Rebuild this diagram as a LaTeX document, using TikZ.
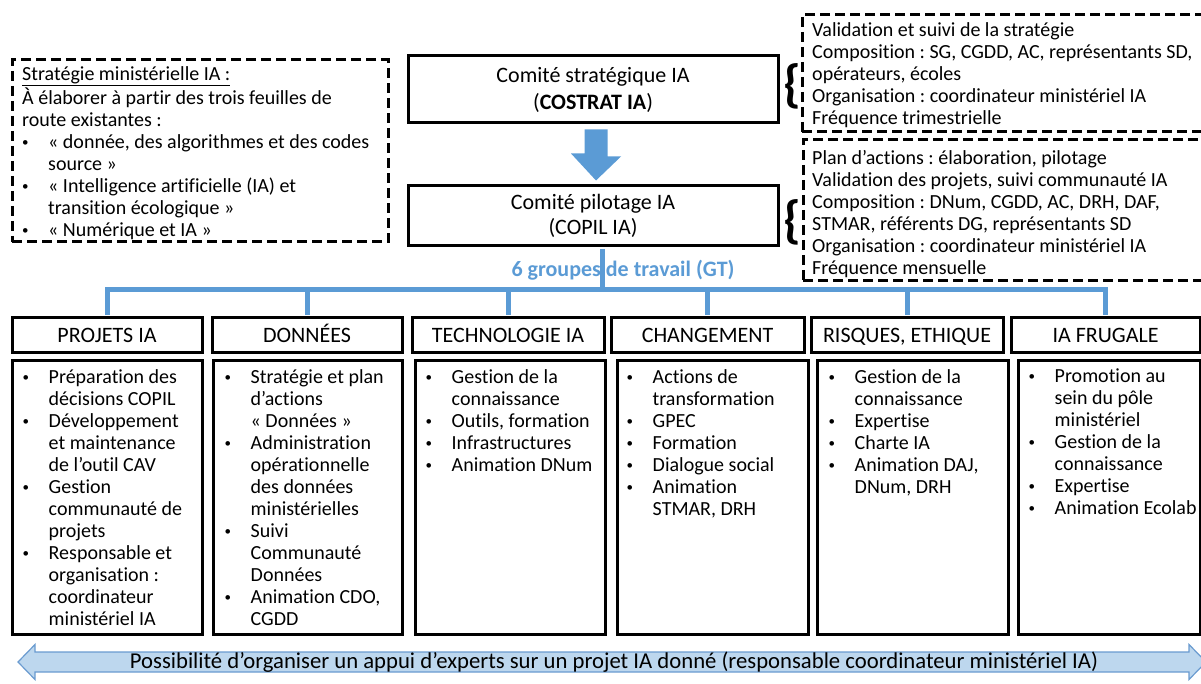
\documentclass[tikz,border=0pt]{standalone}
\usepackage{fontspec}
\setmainfont{Carlito}[Ligatures=NoCommon]
\usetikzlibrary{calc}
\frenchspacing
\definecolor{gtblue}{HTML}{5B9BD5}
\definecolor{appuifill}{HTML}{BDD7EE}
\definecolor{appuiline}{HTML}{6A9BD0}
% bullet and hanging indent for the task lists
\newcommand\bmark{\makebox[26pt][l]{\raisebox{2.2pt}{\fontsize{13}{13}\selectfont •}}}
\newcommand\imark{\hspace*{26pt}}

\begin{document}
\begin{tikzpicture}[x=1pt,y=-1pt,
  solidbox/.style={draw, line width=3pt, inner sep=0pt},
  dashbox/.style={draw, line width=3pt, dash pattern=on 10pt off 5pt, inner sep=0pt},
  bodytext/.style={anchor=north west, align=left, inner sep=0pt,
    font=\fontsize{20}{22}\selectfont},
  notetext/.style={anchor=north west, align=left, inner sep=0pt,
    font=\fontsize{20}{22}\selectfont},
  headtext/.style={solidbox, font=\fontsize{22}{24}\selectfont,
    text height=14.5pt, text depth=0pt},
  bracemark/.style={inner sep=0pt, font=\fontsize{52}{52}\bfseries\selectfont},
  gtline/.style={draw=gtblue, line width=5pt},
]
\useasboundingbox (0,0) rectangle (1201,684);

% ---- strategy note (top left) ----
\node[dashbox, minimum width=376, minimum height=182] (strat) at (200,151) {};
\node[notetext] (strattxt) at (22,65.1) {\strut\underline{Stratégie ministérielle IA :}\\
À élaborer à partir des trois feuilles de\\
route existantes :\\
\bmark « donnée, des algorithmes et des codes\\
\imark source »\\
\bmark « Intelligence artificielle (IA) et\\
\imark transition écologique »\\
\bmark « Numérique et IA »};

% ---- steering committees ----
\node[solidbox, minimum width=370, minimum height=67, align=center,
  font=\fontsize{22}{27}\selectfont] (costrat) at (593,89.5)
  {Comité stratégique IA\\(\textbf{COSTRAT IA})};
\node[solidbox, minimum width=370, minimum height=60, align=center,
  font=\fontsize{22}{25}\selectfont] (copil) at (593,216)
  {Comité pilotage IA\\(COPIL IA)};

% block arrow between the two committees
\fill[gtblue] ([xshift=-8.5pt,yshift=-5pt]costrat.south) -- ++(23,0) -- ++(0,27)
  -- ++(13.5,0) -- ([xshift=3pt,yshift=4pt]copil.north) -- ++(-25,-27)
  -- ++(13.5,0) -- cycle;

% ---- committee descriptions (top right) ----
\node[bracemark] (brace1) at (792,86) {\{};
\node[bracemark] (brace2) at (792,222) {\{};
\node[dashbox, minimum width=413, minimum height=117] (costratnote) at (1008.5,73.5) {};
\node[notetext] (costrattxt) at (812,20.6) {\strut Validation et suivi de la stratégie\\
Composition : SG, CGDD, AC, représentants SD,\\
opérateurs, écoles\\
Organisation : coordinateur ministériel IA\\
Fréquence trimestrielle};
\node[dashbox, minimum width=412, minimum height=141] (copilnote) at (1009,210.5) {};
\node[notetext] (copiltxt) at (812,149.1) {\strut Plan d’actions : élaboration, pilotage\\
Validation des projets, suivi communauté IA\\
Composition : DNum, CGDD, AC, DRH, DAF,\\
STMAR, référents DG, représentants SD\\
Organisation : coordinateur ministériel IA\\
Fréquence mensuelle};

% ---- working group headers ----
\node[headtext, minimum width=190, minimum height=34] (h1) at (107,335) {PROJETS IA};
\node[headtext, minimum width=190, minimum height=34] (h2) at (307,335) {DONNÉES};
\node[headtext, minimum width=192, minimum height=34] (h3) at (508,335) {TECHNOLOGIE IA};
\node[headtext, minimum width=193, minimum height=34] (h4) at (707.5,335) {CHANGEMENT};
\node[headtext, minimum width=192, minimum height=34] (h5) at (907,335) {RISQUES, ETHIQUE};
\node[headtext, minimum width=189, minimum height=34] (h6) at (1105.5,335) {IA FRUGALE};

% ---- working group task boxes ----
\node[solidbox, minimum width=190, minimum height=274] (c1) at (107,497) {};
\node[solidbox, minimum width=189, minimum height=274] (c2) at (307.5,497) {};
\node[solidbox, minimum width=190, minimum height=274] (c3) at (510,497) {};
\node[solidbox, minimum width=191, minimum height=274] (c4) at (712.5,497) {};
\node[solidbox, minimum width=191, minimum height=274] (c5) at (912.5,497) {};
\node[solidbox, minimum width=182, minimum height=274] (c6) at (1109,497) {};

\node[bodytext] (t1) at ([xshift=12pt,yshift=-9.5pt]c1.north west) {\strut
\bmark Préparation des\\ \imark décisions COPIL\\
\bmark Développement\\ \imark et maintenance\\ \imark de l’outil CAV\\
\bmark Gestion\\ \imark communauté de\\ \imark projets\\
\bmark Responsable et\\ \imark organisation :\\ \imark coordinateur\\ \imark ministériel IA};
\node[bodytext] (t2) at ([xshift=13pt,yshift=-9.5pt]c2.north west) {\strut
\bmark Stratégie et plan\\ \imark d’actions\\ \imark « Données »\\
\bmark Administration\\ \imark opérationnelle\\ \imark des données\\ \imark ministérielles\\
\bmark Suivi\\ \imark Communauté\\ \imark Données\\
\bmark Animation CDO,\\ \imark CGDD};
\node[bodytext] (t3) at ([xshift=12pt,yshift=-9.5pt]c3.north west) {\strut
\bmark Gestion de la\\ \imark connaissance\\
\bmark Outils, formation\\
\bmark Infrastructures\\
\bmark Animation DNum};
\node[bodytext] (t4) at ([xshift=11pt,yshift=-9.5pt]c4.north west) {\strut
\bmark Actions de\\ \imark transformation\\
\bmark GPEC\\
\bmark Formation\\
\bmark Dialogue social\\
\bmark Animation\\ \imark STMAR, DRH};
\node[bodytext] (t5) at ([xshift=13pt,yshift=-9.5pt]c5.north west) {\strut
\bmark Gestion de la\\ \imark connaissance\\
\bmark Expertise\\
\bmark Charte IA\\
\bmark Animation DAJ,\\ \imark DNum, DRH};
\node[bodytext] (t6) at ([xshift=12pt,yshift=-8.5pt]c6.north west) {\strut
\bmark Promotion au\\ \imark sein du pôle\\ \imark ministériel\\
\bmark Gestion de la\\ \imark connaissance\\
\bmark Expertise\\
\bmark Animation Ecolab};

% ---- the six working groups hanging from COPIL ----
\node[font=\fontsize{22}{24}\bfseries\selectfont, text=gtblue, inner sep=0pt] (gt) at (623,270)
  {6 groupes de travail (GT)};
\coordinate (bar) at (600,290);
\draw[gtline] ([yshift=1.5pt]h1.north) -- (h1.north |- bar) -- (h6.north |- bar)
  -- ([yshift=1.5pt]h6.north);
\foreach \h in {h2,h3,h4,h5}
  \draw[gtline] ([yshift=1.5pt]\h.north) -- (\h.north |- bar);
\draw[gtline] ([xshift=9pt,yshift=-1.5pt]copil.south) -- ([xshift=9pt]copil.south |- bar);

% ---- expert support double arrow ----
\coordinate (lefttip) at (18,662);
\coordinate (righttip) at (1206,662);
\filldraw[fill=appuifill, draw=appuiline, line width=1.2pt]
  (lefttip) -- ++(17,-17.5) -- ++(0,7.5) -- (1189,652) -- ++(0,-7.5)
  -- (righttip) -- ++(-17,17.5) -- ++(0,-7.5) -- (35,672) -- ++(0,7.5) -- cycle;
\node[font=\fontsize{22.7}{24}\selectfont, inner sep=0pt] (appui) at (614,662)
  {Possibilité d’organiser un appui d’experts sur un projet IA donné (responsable coordinateur ministériel IA)};
\end{tikzpicture}
\end{document}
